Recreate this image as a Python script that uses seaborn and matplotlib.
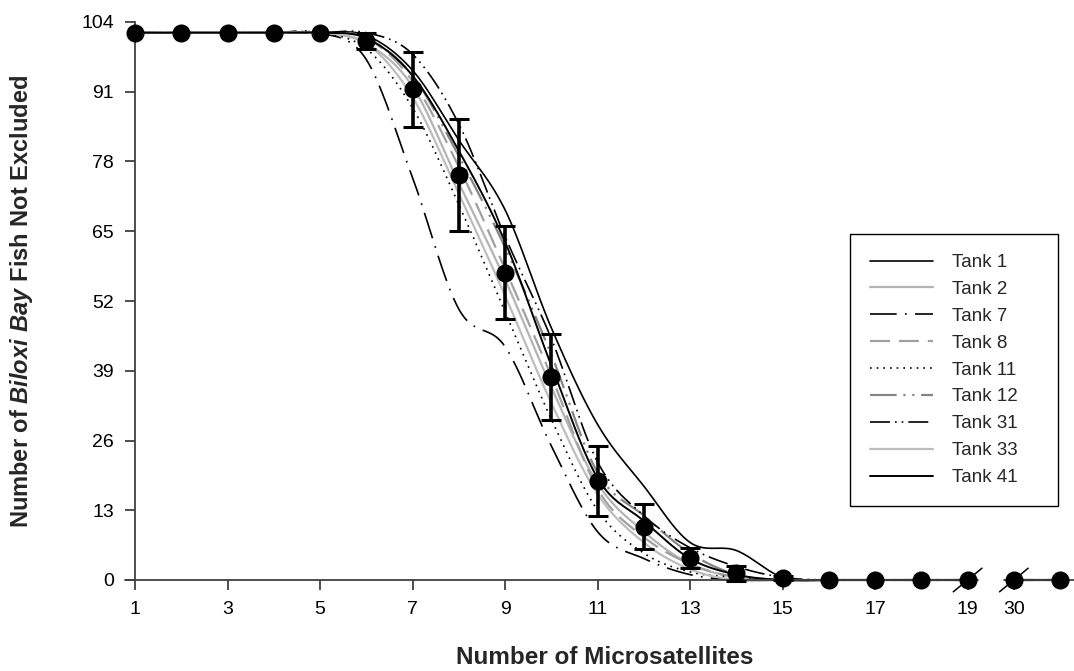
import numpy as np
import pandas as pd
import matplotlib
matplotlib.use('Agg')
import matplotlib.pyplot as plt
import seaborn as sns

# number of microsatellites (the axis is broken between 19 and 30)
categories = [1, 2, 3, 4, 5, 6, 7, 8, 9, 10, 11, 12, 13, 14, 15, 16, 17, 18, 19, 30, 31]
tick_labels = ['1', '3', '5', '7', '9', '11', '13', '15', '17', '19', '30']

mean_fish = [102, 102, 102, 102, 102, 100.5, 91.5, 75.5, 57.3, 37.8, 18.5, 9.9, 4.1, 1.3, 0.4,
             0, 0, 0, 0, 0, 0]
sd_fish = [0, 0, 0, 0, 0, 1.5, 7, 10.5, 8.6, 8, 6.5, 4.2, 1.8, 1.4, 0.4,
           0, 0, 0, 0, 0, 0]

tank_1 = [102, 102, 102, 102, 102, 101.5, 95, 82, 69, 47, 29, 17.5, 7, 5.5, 0.5, 0, 0, 0, 0, 0, 0]
tank_2 = [102, 102, 102, 102, 102, 100, 92, 74, 56, 36, 18, 9, 3, 0.5, 0, 0, 0, 0, 0, 0, 0]
tank_7 = [102, 102, 102, 102, 102, 97, 75, 50.5, 43.5, 25, 9, 4, 1, 0, 0, 0, 0, 0, 0, 0, 0]
tank_8 = [102, 102, 102, 102, 102, 101, 93, 77, 58, 38, 17, 8, 3, 0.5, 0, 0, 0, 0, 0, 0, 0]
tank_11 = [102, 102, 102, 102, 102, 99, 88, 70, 50, 30, 13, 5, 1.5, 0.5, 0, 0, 0, 0, 0, 0, 0]
tank_12 = [102, 102, 102, 102, 102, 101, 94, 79, 62, 42, 20, 12, 5, 1, 0, 0, 0, 0, 0, 0, 0]
tank_31 = [102, 102, 102, 102, 102, 102, 98, 85, 64, 45, 22, 12, 6, 2.5, 0.5, 0, 0, 0, 0, 0, 0]
tank_33 = [102, 102, 102, 102, 102, 100, 90, 72, 53, 33, 16, 7, 2, 0, 0, 0, 0, 0, 0, 0, 0]
tank_41 = [102, 102, 102, 102, 102, 101, 94, 80, 63, 40, 19, 11, 4, 1, 0, 0, 0, 0, 0, 0, 0]

tanks = {
    'Tank 1': tank_1, 'Tank 2': tank_2, 'Tank 7': tank_7, 'Tank 8': tank_8,
    'Tank 11': tank_11, 'Tank 12': tank_12, 'Tank 31': tank_31,
    'Tank 33': tank_33, 'Tank 41': tank_41,
}
styles = {
    'Tank 1': ('black', '-', 1.2),
    'Tank 2': ('#b4b4b4', '-', 1.6),
    'Tank 7': ('black', (0, (16, 5, 1, 5)), 1.2),
    'Tank 8': ('#a0a0a0', (0, (9, 4)), 1.6),
    'Tank 11': ('black', (0, (1, 3)), 1.2),
    'Tank 12': ('#858585', (0, (12, 3, 1, 3, 1, 3)), 1.6),
    'Tank 31': ('black', (0, (12, 3, 1, 3, 1, 3)), 1.2),
    'Tank 33': ('#bdbdbd', '-', 1.6),
    'Tank 41': ('black', '-', 1.4),
}


def smooth(xs, ys, n=20):
    # excel-like smoothed line (catmull-rom through the points)
    xs = np.asarray(xs, float)
    ys = np.asarray(ys, float)
    if len(xs) < 3:
        return xs, ys
    m = np.gradient(ys)
    out_x, out_y = [], []
    for i in range(len(xs) - 1):
        t = np.linspace(0, 1, n, endpoint=False)
        h00 = 2 * t**3 - 3 * t**2 + 1
        h10 = t**3 - 2 * t**2 + t
        h01 = -2 * t**3 + 3 * t**2
        h11 = t**3 - t**2
        out_y.extend(h00 * ys[i] + h10 * m[i] + h01 * ys[i + 1] + h11 * m[i + 1])
        out_x.extend(xs[i] + t * (xs[i + 1] - xs[i]))
    out_x.append(xs[-1])
    out_y.append(ys[-1])
    return np.array(out_x), np.array(out_y)


sns.set_style('white')
plt.rcParams['font.family'] = ['Liberation Sans', 'DejaVu Sans']
plt.rcParams['mathtext.fontset'] = 'custom'
plt.rcParams['mathtext.rm'] = 'Liberation Sans:bold'
plt.rcParams['mathtext.bfit'] = 'Liberation Sans:italic:bold'

fig = plt.figure(figsize=(10.74, 6.71), dpi=100)
ax = fig.add_axes([135 / 1074, 91 / 671, 939 / 1074, 558 / 671])

pos = np.arange(len(categories))
brk = int(np.argmax(np.diff(categories) > 1)) + 1  # first index after the break

handles = []
for name, vals in tanks.items():
    color, ls, lw = styles[name]
    for k, (a, b) in enumerate([(0, brk), (brk, len(pos))]):
        sx, sy = smooth(pos[a:b], vals[a:b])
        sns.lineplot(x=sx, y=sy, ax=ax, color=color, linestyle=ls, linewidth=lw,
                     label=name if k == 0 else None, legend=False, sort=False,
                     estimator=None, clip_on=False, zorder=2)
    handles.append(ax.lines[-2])

mean_arr = np.array(mean_fish)
sd_arr = np.array(sd_fish)
has_err = sd_arr > 0
ax.errorbar(pos[has_err], mean_arr[has_err], yerr=sd_arr[has_err], fmt='none',
            ecolor='black', elinewidth=2.6, capsize=7, capthick=2.2, zorder=4, clip_on=False)
ax.plot(pos, mean_arr, 'o', color='black', markersize=12, zorder=5, clip_on=False)

# x axis drawn by hand with a break between 19 and 30
axis_col = '#404040'
ax.plot([-0.22, pos[brk - 1] + 0.22], [0, 0], color=axis_col, lw=1.3, clip_on=False, zorder=3)
ax.plot([pos[brk] - 0.22, 20.3], [0, 0], color=axis_col, lw=1.3, clip_on=False, zorder=3)
for p in (pos[brk - 1], pos[brk]):
    ax.plot([p - 0.31, p + 0.31], [-2.2, 2.2], color='black', lw=1.1, clip_on=False, zorder=6)

ax.set_xlim(0, 20.3)
ax.set_ylim(0, 104)
ax.set_yticks(np.arange(0, 105, 13))
tick_pos = [i for i, c in enumerate(categories) if str(c) in tick_labels]
ax.set_xticks(tick_pos)
ax.set_xticklabels(tick_labels)

for s in ['top', 'right', 'bottom']:
    ax.spines[s].set_visible(False)
ax.spines['left'].set_color(axis_col)
ax.spines['left'].set_linewidth(1.3)
ax.tick_params(axis='both', bottom=True, left=True, direction='out', length=7,
               width=1.3, color=axis_col, labelsize=14, labelcolor='black')
ax.tick_params(axis='x', pad=8)
ax.tick_params(axis='y', pad=8)

ax.set_ylabel(r'Number of $\mathbfit{Biloxi\ Bay}$ Fish Not Excluded',
              fontsize=17, fontweight='bold')
ax.yaxis.set_label_coords(-0.106, 0.5)
ax.set_xlabel('Number of Microsatellites', fontsize=17.5, fontweight='bold')
ax.xaxis.set_label_coords(0.5, -0.118)

leg = ax.legend(handles, list(tanks.keys()), loc='upper left',
                bbox_to_anchor=(850 / 1074, 1 - 241 / 671, 208 / 1074, 0.01),
                bbox_transform=fig.transFigure, mode='expand',
                fontsize=13.5, frameon=True, fancybox=False, framealpha=1,
                handlelength=3.4, handletextpad=1.0, labelspacing=0.52,
                borderpad=1.05, borderaxespad=0)
leg.get_frame().set_edgecolor('black')
leg.get_frame().set_linewidth(1.0)

fig.savefig('out.png', dpi=100)
